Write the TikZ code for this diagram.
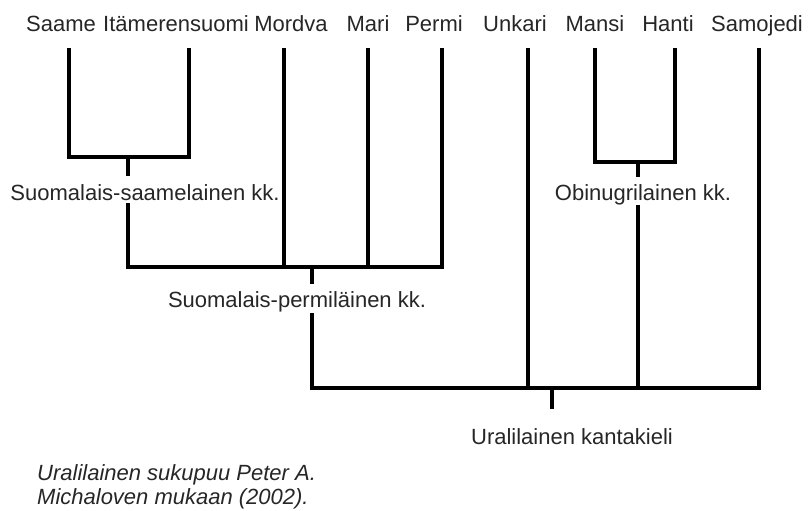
\documentclass[tikz,border=0pt]{standalone}
\usepackage{fontspec}
\setmainfont{Liberation Sans}
\begin{document}
\begin{tikzpicture}[x=1pt,y=-1pt,
  lbl/.style={anchor=base,inner sep=0pt,font=\fontsize{22}{26}\selectfont,text=black!85},
  note/.style={anchor=base west,inner sep=0pt,font=\fontsize{22}{26}\selectfont\itshape,text=black!85},
  br/.style={line width=3.6pt,line cap=rect,line join=miter}]
\useasboundingbox (0,0) rectangle (808,511);
% leaf labels
\node[lbl] (Lsaame) at (61,32) {Saame};
\node[lbl] (Lita) at (176,32) {Itämerensuomi};
\node[lbl] (Lmor) at (291,32) {Mordva};
\node[lbl] (Lmari) at (368,32) {Mari};
\node[lbl] (Lperm) at (434,32) {Permi};
\node[lbl] (Lunk) at (515,32) {Unkari};
\node[lbl] (Lman) at (595,32) {Mansi};
\node[lbl] (Lhan) at (668,32) {Hanti};
\node[lbl] (Lsam) at (757,32) {Samojedi};
% inner labels
\node[lbl] (Lss) at (145,200) {Suomalais-saamelainen kk.};
\node[lbl] (Lob) at (643,200) {Obinugrilainen kk.};
\node[lbl] (Lsp) at (297,307) {Suomalais-permiläinen kk.};
\node[lbl] (Lur) at (572,444) {Uralilainen kantakieli};
\node[note] (N1) at (37,480) {Uralilainen sukupuu Peter A.};
\node[note] (N2) at (37,504) {Michaloven mukaan (2002).};
% coordinates
\coordinate (sa) at (69,50);
\coordinate (it) at (189,50);
\coordinate (mo) at (284,50);
\coordinate (ma) at (368,50);
\coordinate (pe) at (442,50);
\coordinate (un) at (528,50);
\coordinate (mn) at (595,50);
\coordinate (ha) at (675,50);
\coordinate (sm) at (759,50);
\coordinate (ssA) at (128,174);
\coordinate (ssB) at (128,205);
\coordinate (spA) at (312,282);
\coordinate (spB) at (312,315);
\coordinate (obA) at (638,175);
\coordinate (obB) at (638,207);
\coordinate (ur) at (552,407);
% Suomalais-saamelainen
\draw[br] (sa) -- (69,157) -- (189,157) -- (it);
\draw[br] (128,157) -- (ssA);
% Suomalais-permilainen
\draw[br] (ssB) -- (128,267) -- (442,267) -- (pe);
\draw[br] (mo) -- (284,267);
\draw[br] (ma) -- (368,267);
\draw[br] (312,267) -- (spA);
% Obinugrilainen
\draw[br] (mn) -- (595,162) -- (675,162) -- (ha);
\draw[br] (638,162) -- (obA);
% Root
\draw[br] (spB) -- (312,388) -- (759,388) -- (sm);
\draw[br] (un) -- (528,388);
\draw[br] (obB) -- (638,388);
\draw[br] (552,388) -- (ur);
\end{tikzpicture}
\end{document}
